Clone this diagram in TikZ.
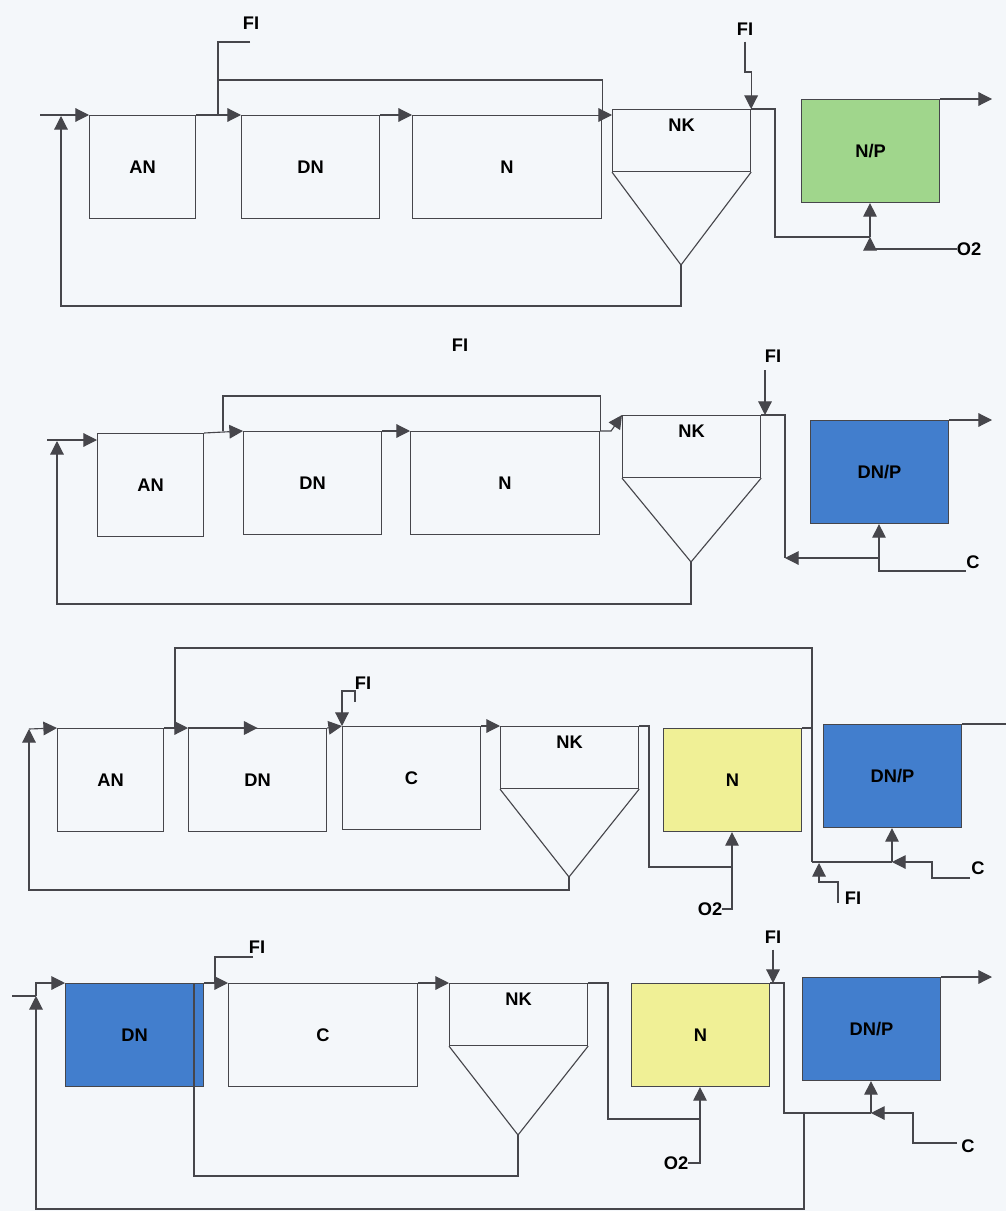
\documentclass[tikz,border=0pt]{standalone}
\usepackage{fontspec}
\setmainfont{Liberation Sans}
\usepackage{tikz}
\usetikzlibrary{arrows.meta,positioning}

\definecolor{paper}{RGB}{244,247,250}
\definecolor{linegray}{RGB}{70,70,75}
\definecolor{nfill}{RGB}{240,240,150}
\definecolor{npfill}{RGB}{160,214,140}
\definecolor{dnfill}{RGB}{66,126,205}
\newcommand{\tagfont}{\fontsize{13}{15}\selectfont\bfseries}

\begin{document}
\begin{tikzpicture}[
    x=0.25mm,
    y=-0.25mm,
    tank/.style={
        draw=linegray,
        line width=0.8pt,
        anchor=north west,
        inner sep=0pt,
        minimum height=25.75mm,
        font=\tagfont
    },
    wsmall/.style={minimum width=26.5mm},
    wmid/.style={minimum width=34.5mm},
    wlong/.style={minimum width=47.25mm},
    settler/.style={
        draw=linegray,
        line width=0.8pt,
        anchor=north west,
        inner sep=0pt,
        minimum width=34.5mm,
        minimum height=15.5mm
    },
    tag/.style={font=\tagfont, inner sep=0pt},
    pipe/.style={draw=linegray, line width=0.8pt},
    flow/.style={
        draw=linegray,
        line width=0.8pt,
        -{Triangle[length=3.4mm,width=3.4mm]}
    }
]

\fill[paper] (0,0) rectangle (1006,1211);
\useasboundingbox (0,0) rectangle (1006,1211);

% Line 1
\node[tank,wsmall] (an1) at (89,115) {AN};
\node[tank,wmid] (dn1) at (241,115) {DN};
\node[tank,wlong] (n1) at (412,115) {N};
\node[settler] (nk1) at (612,109) {};
\node[tag,below=2.4mm of nk1.north] (nk1t) {NK};
\coordinate (nk1tip) at (681,265);
\node[tank,wmid,fill=npfill] (np1) at (801,99) {N/P};

\node[tag] (fi1) at (251,23) {FI};
\node[tag] (fi2) at (745,29) {FI};
\node[tag] (o2a) at (969,249) {O2};

\coordinate (in1) at (40,115);
\coordinate (rc1) at (61,116);
\coordinate (fi1end) at (250,42);
\coordinate (j1) at (218,115);
\coordinate (j2) at (870,237);

\draw[pipe] (nk1.south west) -- (nk1tip) -- (nk1.south east);
\draw[flow] (in1) -- (an1.north west);
\draw[flow] (an1.north east) -- (dn1.north west);
\draw[flow] (dn1.north east) -- (n1.north west);
\draw[pipe] (fi1end) -| (j1);
\draw[pipe] (218,80) -| (n1.north east);
\draw[flow] (n1.north east) -- (n1.north east -| nk1.west);
\draw[flow] ([yshift=-1.5mm]fi2.south) -- (745,72) -| (nk1.north east);
\draw[pipe] (nk1.north east) -- (775,109) |- (j2);
\draw[flow] (j2) -- (j2 |- np1.south);
\draw[flow] (o2a.west) -| (j2);
\draw[flow] (np1.north east) -- (992,99);
\draw[flow] (nk1tip) -- (681,306) -| (rc1);

% Line 2
\node[tag] (fi3) at (460,345) {FI};
\node[tank,wsmall] (an2) at (97,433) {AN};
\node[tank,wmid] (dn2) at (243,431) {DN};
\node[tank,wlong] (n2) at (410,431) {N};
\node[settler] (nk2) at (622,415) {};
\node[tag,below=2.4mm of nk2.north] (nk2t) {NK};
\coordinate (nk2tip) at (691,562);
\node[tank,wmid,fill=dnfill] (dnp2) at (810,420) {DN/P};

\node[tag] (fi4) at (773,356) {FI};
\node[tag] (cin2) at (973,562) {C};

\coordinate (in2) at (47,440);
\coordinate (rc2) at (57,441);
\coordinate (j3) at (879,558);
\coordinate (k2) at (785,558);
\coordinate (fi4end) at (765,370);
\coordinate (cend2) at (966,571);

\draw[pipe] (nk2.south west) -- (nk2tip) -- (nk2.south east);
\draw[flow] (in2) -- (in2 -| an2.west);
\draw[flow] (an2.north east) -- (dn2.north west);
\draw[flow] (dn2.north east) -- (n2.north west);
\draw[pipe] (223,431) -- (223,396) -| (n2.north east);
\draw[flow] (n2.north east) -- ++(11,0) -- (nk2.north west);
\draw[flow] (fi4end) -- (fi4end |- nk2.north);
\draw[pipe] (nk2.north east) -| (k2);
\draw[flow] (j3) -- (k2);
\draw[flow] (j3) -- (j3 |- dnp2.south);
\draw[pipe] (j3) |- (cend2);
\draw[flow] (dnp2.north east) -- (992,420);
\draw[flow] (nk2tip) -- (691,604) -| (rc2);

% Line 3
\node[tank,wsmall] (an3) at (57,728) {AN};
\node[tank,wmid] (dn3) at (188,728) {DN};
\node[tank,wmid] (c3) at (342,726) {C};
\node[settler] (nk3) at (500,726) {};
\node[tag,below=2.4mm of nk3.north] (nk3t) {NK};
\coordinate (nk3tip) at (569,877);
\node[tank,wmid,fill=nfill] (n3) at (663,728) {N};
\node[tank,wmid,fill=dnfill] (dnp3) at (823,724) {DN/P};

\node[tag] (fi5) at (363,683) {FI};
\node[tag] (o2b) at (710,909) {O2};
\node[tag] (fi6) at (853,898) {FI};
\node[tag] (cin3) at (978,868) {C};

\coordinate (rc3) at (29,729);
\coordinate (j4) at (732,867);
\coordinate (j5) at (892,862);
\coordinate (k3) at (812,862);
\coordinate (fi5end) at (355,702);
\coordinate (fi6end) at (838,903);
\coordinate (cend3) at (970,878);

\draw[pipe] (nk3.south west) -- (nk3tip) -- (nk3.south east);
\draw[flow] (rc3) -- (an3.north west);
\draw[flow] (an3.north east) -- (dn3.north west);
\draw[flow] (dn3.north west) -- (dn3.north);
\draw[flow] (dn3.north east) -- (c3.north west);
\draw[flow] (fi5end) |- (342,691) -- (c3.north west);
\draw[flow] (c3.north east) -- (nk3.north west);
\draw[pipe] (175,728) -- (175,648) -| (k3);
\draw[pipe] (n3.north east) -- (n3.north east -| k3);
\draw[pipe] (k3) -- (j5);
\draw[flow] (j5) -- (j5 |- dnp3.south);
\draw[pipe] (nk3.north east) -- (649,726) |- (j4);
\draw[flow] (j4) -- (j4 |- n3.south);
\draw[pipe] (o2b.east) -| (j4);
\draw[flow] (fi6end) |- (819,882) -- (819,863);
\draw[flow] (cend3) -| (932,862) -- (j5);
\draw[pipe] (dnp3.north east) -- (1006,724);
\draw[flow] (nk3tip) -- (569,890) -| (rc3);

% Line 4
\node[tank,wmid,fill=dnfill] (dn4) at (65,983) {DN};
\node[tank,wlong] (c4) at (228,983) {C};
\node[settler] (nk4) at (449,983) {};
\node[tag,below=2.4mm of nk4.north] (nk4t) {NK};
\coordinate (nk4tip) at (518,1135);
\node[tank,wmid,fill=nfill] (n4) at (631,983) {N};
\node[tank,wmid,fill=dnfill] (dnp4) at (802,977) {DN/P};

\node[tag] (fi7) at (257,947) {FI};
\node[tag] (fi8) at (773,937) {FI};
\node[tag] (o2c) at (676,1163) {O2};
\node[tag] (cin4) at (968,1146) {C};

\coordinate (in4) at (12,996);
\coordinate (rc4) at (36,996);
\coordinate (j7) at (700,1119);
\coordinate (j8) at (871,1113);
\coordinate (k4) at (804,1113);
\coordinate (fi7end) at (253,957);
\coordinate (cend4) at (957,1143);

\draw[pipe] (nk4.south west) -- (nk4tip) -- (nk4.south east);
\draw[pipe] (in4) -- (rc4);
\draw[flow] (k4) -- (804,1209) -| (rc4);
\draw[flow] (rc4) |- (dn4.north west);
\draw[pipe] (nk4tip) -- (518,1176) -| (194,983);
\draw[flow] (dn4.north east) -- (c4.north west);
\draw[pipe] (fi7end) -| (215,983);
\draw[flow] (c4.north east) -- (nk4.north west);
\draw[pipe] (nk4.north east) -- (608,983) |- (j7);
\draw[flow] (j7) -- (j7 |- n4.south);
\draw[pipe] (o2c.east) -| (j7);
\draw[flow] ([yshift=-1.5mm]fi8.south) -- (fi8.south |- n4.north);
\draw[pipe] (n4.north east) -- (784,983) |- (j8);
\draw[flow] (j8) -- (j8 |- dnp4.south);
\draw[flow] (cend4) -| (913,1113) -- (j8);
\draw[flow] (dnp4.north east) -- (992,977);

\end{tikzpicture}
\end{document}
